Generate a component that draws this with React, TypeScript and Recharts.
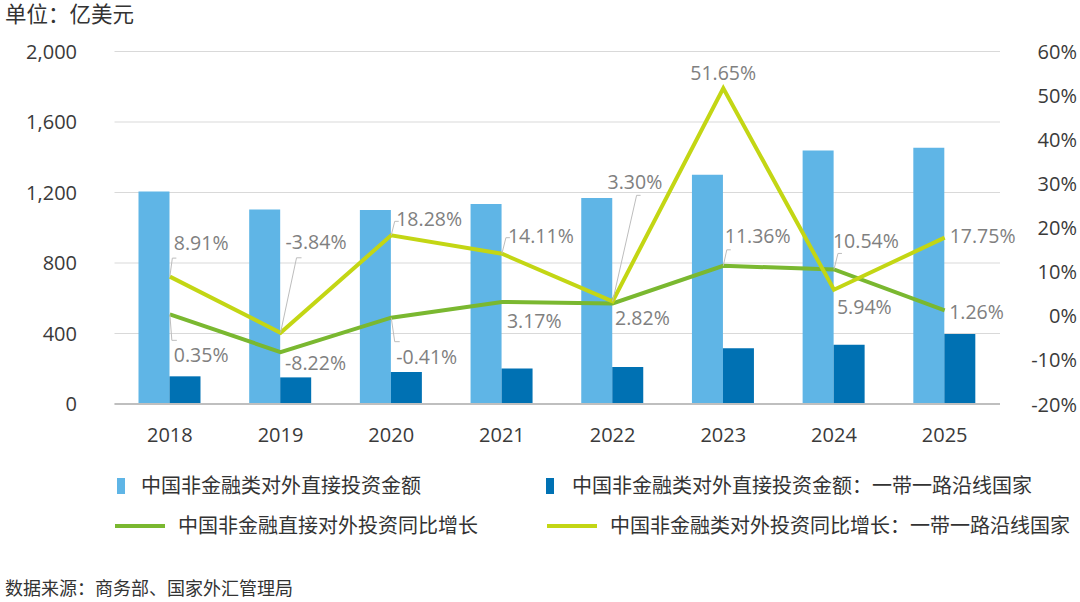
import React from 'react';
import { ComposedChart, Bar, Line, XAxis, YAxis, CartesianGrid, LabelList } from 'recharts';

// ---- data ----
const years = ['2018', '2019', '2020', '2021', '2022', '2023', '2024', '2025'];
const totalOdi = [1205, 1103, 1101, 1135, 1169, 1301, 1439, 1454];
const briOdi = [157, 151, 181, 202, 210, 317, 336, 397];
const totalGrowth = [0.35, -8.22, -0.41, 3.17, 2.82, 11.36, 10.54, 1.26];
const briGrowth = [8.91, -3.84, 18.28, 14.11, 3.3, 51.65, 5.94, 17.75];
const leftTicks = [0, 400, 800, 1200, 1600, 2000];
const rightTicks = [-20, -10, 0, 10, 20, 30, 40, 50, 60];

const seriesNames = [
  '中国非金融类对外直接投资金额',
  '中国非金融类对外直接投资金额：一带一路沿线国家',
  '中国非金融直接对外投资同比增长',
  '中国非金融类对外投资同比增长：一带一路沿线国家',
];

const data = years.map((y, i) => ({
  year: y,
  total: totalOdi[i],
  bri: briOdi[i],
  g1: totalGrowth[i],
  g2: briGrowth[i],
}));

// ---- styles / label layout ----
const FONT = "'Open Sans', 'Noto Sans CJK SC', sans-serif";
const C_LIGHT = '#5FB5E6';
const C_DARK = '#0071B3';
const C_GREEN = '#7AB830';
const C_LIME = '#C3D614';
const TEXT = '#3a3a3a';
const LABEL = '#808080';

type LabelLayout = { dx: number; dy: number; leader?: [number, number, number] };

const greenLayout: LabelLayout[] = [
  { dx: 4, dy: 40, leader: [2, 26, 5] },
  { dx: 4.5, dy: 10 },
  { dx: 5, dy: 38.5, leader: [3.5, 24, 5] },
  { dx: 5, dy: 18.5 },
  { dx: 2.5, dy: 14 },
  { dx: 1.5, dy: -30, leader: [3.5, -16, 4] },
  { dx: -1, dy: -29, leader: [4, -16, 4] },
  { dx: 4.5, dy: 1.5 },
];

const limeLayout: LabelLayout[] = [
  { dx: 4, dy: -34.5, leader: [2.5, -18.5, 4] },
  { dx: 5, dy: -91, leader: [16, -75, 5] },
  { dx: 5, dy: -17, leader: [3.5, -14, 4] },
  { dx: 6, dy: -18.5, leader: [4, -16, 4] },
  { dx: -5, dy: -119.5, leader: [24, -106, 4] },
  { dx: -33, dy: -16 },
  { dx: 3, dy: 16.5 },
  { dx: 5, dy: -2.5 },
];

const makeLabel = (layout: LabelLayout[]) => (props: any) => {
  const idx = props.index ?? 0;
  const x = props.x ?? props.viewBox?.x;
  const y = props.y ?? props.viewBox?.y;
  const v = Number(props.value);
  const l = layout[idx];
  if (!l || x == null || y == null) return null;
  return (
    <g>
      {l.leader && (
        <polyline
          points={`${x},${y} ${x + l.leader[0]},${y + l.leader[1]} ${x + l.leader[0] + l.leader[2]},${y + l.leader[1]}`}
          fill="none"
          stroke="#bdbdbd"
          strokeWidth={1}
        />
      )}
      <text
        x={x + l.dx}
        y={y + l.dy}
        dominantBaseline="central"
        textAnchor="start"
        fontFamily={FONT}
        fontSize={19.5}
        fill={LABEL}
      >
        {v.toFixed(2)}%
      </text>
    </g>
  );
};

const fmtThousands = (v: number) => v.toLocaleString('en-US');

const RightTick = (props: any) => {
  const { x, y, payload } = props;
  return (
    <text x={x} y={y} textAnchor="end" dominantBaseline="central" fill={TEXT} fontSize={20} fontFamily={FONT}>
      {`${payload.value}%`}
    </text>
  );
};

export default function App() {
  return (
    <div
      style={{
        position: 'absolute',
        left: 0,
        top: 0,
        width: 1080,
        height: 602,
        background: '#fff',
        fontFamily: FONT,
        color: TEXT,
      }}
    >
      <div style={{ position: 'absolute', left: 5, top: 2, fontSize: 21.5, lineHeight: '24px', color: '#333' }}>
        单位：亿美元
      </div>

      <div style={{ position: 'absolute', left: 0, top: 0 }}>
        <ComposedChart
          width={1080}
          height={460}
          data={data}
          margin={{ top: 51.5, right: 0, left: 0, bottom: 0 }}
          barGap={0}
        >
          <CartesianGrid yAxisId="left" vertical={false} stroke="#d9d9d9" strokeWidth={1} />
          <XAxis
            dataKey="year"
            height={56}
            tickLine={false}
            tickSize={0}
            tickMargin={24}
            axisLine={{ stroke: '#bfbfbf', strokeWidth: 2 }}
            tick={{ fill: TEXT, fontSize: 20, fontFamily: FONT }}
          />
          <YAxis
            yAxisId="left"
            orientation="left"
            width={114.5}
            domain={[0, 2000]}
            ticks={leftTicks}
            tickFormatter={fmtThousands}
            axisLine={false}
            tickLine={false}
            tickSize={0}
            tickMargin={37.5}
            tick={{ fill: TEXT, fontSize: 20, fontFamily: FONT }}
          />
          <YAxis
            yAxisId="right"
            orientation="right"
            width={80}
            domain={[-20, 60]}
            ticks={rightTicks}
            axisLine={false}
            tickLine={false}
            tickSize={0}
            tickMargin={77}
            tick={<RightTick />}
          />
          <Bar yAxisId="left" dataKey="total" name={seriesNames[0]} fill={C_LIGHT} barSize={31} isAnimationActive={false} />
          <Bar yAxisId="left" dataKey="bri" name={seriesNames[1]} fill={C_DARK} barSize={31} isAnimationActive={false} />
          <Line
            yAxisId="right"
            type="linear"
            dataKey="g1"
            name={seriesNames[2]}
            stroke={C_GREEN}
            strokeWidth={4}
            dot={false}
            activeDot={false}
            isAnimationActive={false}
          >
            <LabelList dataKey="g1" content={makeLabel(greenLayout)} />
          </Line>
          <Line
            yAxisId="right"
            type="linear"
            dataKey="g2"
            name={seriesNames[3]}
            stroke={C_LIME}
            strokeWidth={4}
            dot={false}
            activeDot={false}
            isAnimationActive={false}
          >
            <LabelList dataKey="g2" content={makeLabel(limeLayout)} />
          </Line>
        </ComposedChart>
      </div>

      {/* legend */}
      <div style={{ position: 'absolute', left: 117, top: 478, width: 8, height: 16, background: C_LIGHT }} />
      <div style={{ position: 'absolute', left: 141, top: 474, fontSize: 20, lineHeight: '24px', color: '#333' }}>
        {seriesNames[0]}
      </div>
      <div style={{ position: 'absolute', left: 546, top: 478, width: 8, height: 16, background: C_DARK }} />
      <div style={{ position: 'absolute', left: 572, top: 474, fontSize: 20, lineHeight: '24px', color: '#333' }}>
        {seriesNames[1]}
      </div>
      <div style={{ position: 'absolute', left: 115, top: 524, width: 50, height: 4, background: C_GREEN }} />
      <div style={{ position: 'absolute', left: 178, top: 514, fontSize: 20, lineHeight: '24px', color: '#333' }}>
        {seriesNames[2]}
      </div>
      <div style={{ position: 'absolute', left: 547, top: 524, width: 50, height: 4, background: C_LIME }} />
      <div style={{ position: 'absolute', left: 610, top: 514, fontSize: 20, lineHeight: '24px', color: '#333' }}>
        {seriesNames[3]}
      </div>

      <div style={{ position: 'absolute', left: 5, top: 577, fontSize: 18, lineHeight: '22px', color: '#333' }}>
        数据来源：商务部、国家外汇管理局
      </div>
    </div>
  );
}
